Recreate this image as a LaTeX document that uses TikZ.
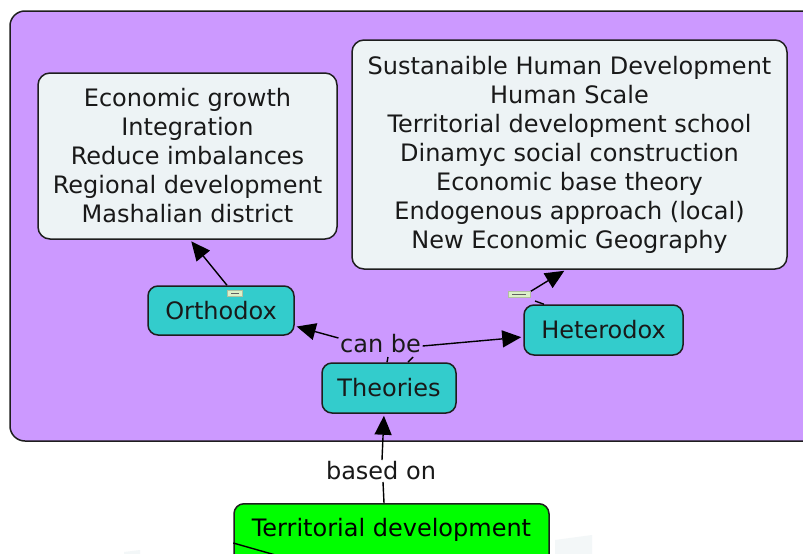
\documentclass[tikz,border=0pt]{standalone}
\usepackage{fontspec}
\setmainfont{DejaVu Sans}
\usetikzlibrary{arrows.meta}
\definecolor{purplebg}{RGB}{204,153,255}
\definecolor{teal}{RGB}{51,204,204}
\definecolor{lightbox}{RGB}{237,243,245}
\definecolor{greennode}{RGB}{0,255,0}
\definecolor{edge}{RGB}{30,30,30}
\definecolor{txt}{RGB}{25,25,25}
\definecolor{marker}{RGB}{220,240,200}
\begin{document}
\begin{tikzpicture}[x=1pt,y=-1pt,
  every node/.style={font=\fontsize{24}{29}\selectfont, text=txt},
  listbox/.style={draw=edge, line width=1.5pt, fill=lightbox, rounded corners=12pt, align=center, inner sep=0pt},
  concept/.style={draw=edge, line width=1.5pt, fill=teal, rounded corners=10pt, inner sep=0pt},
  linkphrase/.style={inner sep=1.5pt},
  conn/.style={draw=black, line width=1.4pt},
  arr/.style={conn, shorten >=2pt, -{Triangle[length=19pt,width=17pt]}},
  collapse/.style={fill=marker, draw=marker!80!black, line width=0.4pt, minimum width=15pt, minimum height=6pt, inner sep=0pt}
]
\useasboundingbox (0,0) rectangle (803,554);
\clip (0,0) rectangle (803,554);
\fill[white] (0,0) rectangle (803,554);

% container
\draw[draw=edge, line width=1.5pt, fill=purplebg, rounded corners=15pt] (10,11) rectangle (830,441);

% faint shapes at the bottom
\fill[lightbox!70!white] (555,540) -- (592,535) -- (592,560) -- (555,560) -- cycle;
\fill[lightbox!70!white] (124,552) -- (140,550) -- (140,560) -- (124,560) -- cycle;

% nodes
\node[listbox, minimum width=299pt, minimum height=166pt] (orthlist) at (187.5,156)
  {Economic growth\\Integration\\Reduce imbalances\\Regional development\\Mashalian district};
\node[listbox, minimum width=435pt, minimum height=229pt] (hetlist) at (569.5,154.5)
  {Sustanaible Human Development\\Human Scale\\Territorial development school\\Dinamyc social construction\\Economic base theory\\Endogenous approach (local)\\New Economic Geography};
\node[concept, minimum width=146pt, minimum height=49pt] (orth) at (221,310.5) {Orthodox};
\node[concept, minimum width=159pt, minimum height=50pt] (het) at (603.5,330) {Heterodox};
\node[concept, minimum width=134pt, minimum height=50pt] (theo) at (389,388) {Theories};
\node[draw=edge, line width=1.5pt, fill=greennode, rounded corners=10pt, inner sep=0pt,
  minimum width=315pt, text height=33pt, text depth=45pt, anchor=north, text=black] (terr) at (391.5,503) {Territorial development};

% linking phrases
\node[linkphrase] (canbe) at (380.5,344) {can be};
\node[linkphrase] (basedon) at (381,471) {based on};

% connectors
\draw[conn] (terr.north -| 384,0) -- (basedon.south -| 383,0);
\draw[arr] (basedon.north -| 382,0) -- (theo.south -| 384,0);

\coordinate (cbl) at (388,357);
\coordinate (cbr) at (413,357);
\draw[conn] (theo.north -| 387,0) -- (cbl);
\draw[conn] (theo.north -| 408,0) -- (cbr);
\draw[arr] (canbe.west |- 0,338) -- (orth.east |- 0,326);
\draw[arr] (canbe.east |- 0,346) -- (het.west |- 0,337);

\draw[arr] (orth.north -| 227,0) -- (orthlist.south -| 190,0);

\coordinate (hstub) at (535,301);
\coordinate (hmark) at (528,293);
\draw[conn] (het.north -| 544,0) -- (hstub);
\draw[arr] (hmark) -- (hetlist.south -| 566,0);

% collapse markers
\node[collapse] (om) at (235,293) {};
\draw[edge!70, line width=0.8pt] ([xshift=-4pt]om.center) -- ([xshift=4pt]om.center);
\node[collapse, minimum width=22pt] (hm) at (519,294) {};
\draw[edge!70, line width=0.8pt] ([xshift=-7pt]hm.center) -- ([xshift=7pt]hm.center);

% connector leaving the bottom node
\coordinate (offpage) at (300,562);
\draw[conn] (terr.west |- 0,543) -- (offpage);
\end{tikzpicture}
\end{document}
